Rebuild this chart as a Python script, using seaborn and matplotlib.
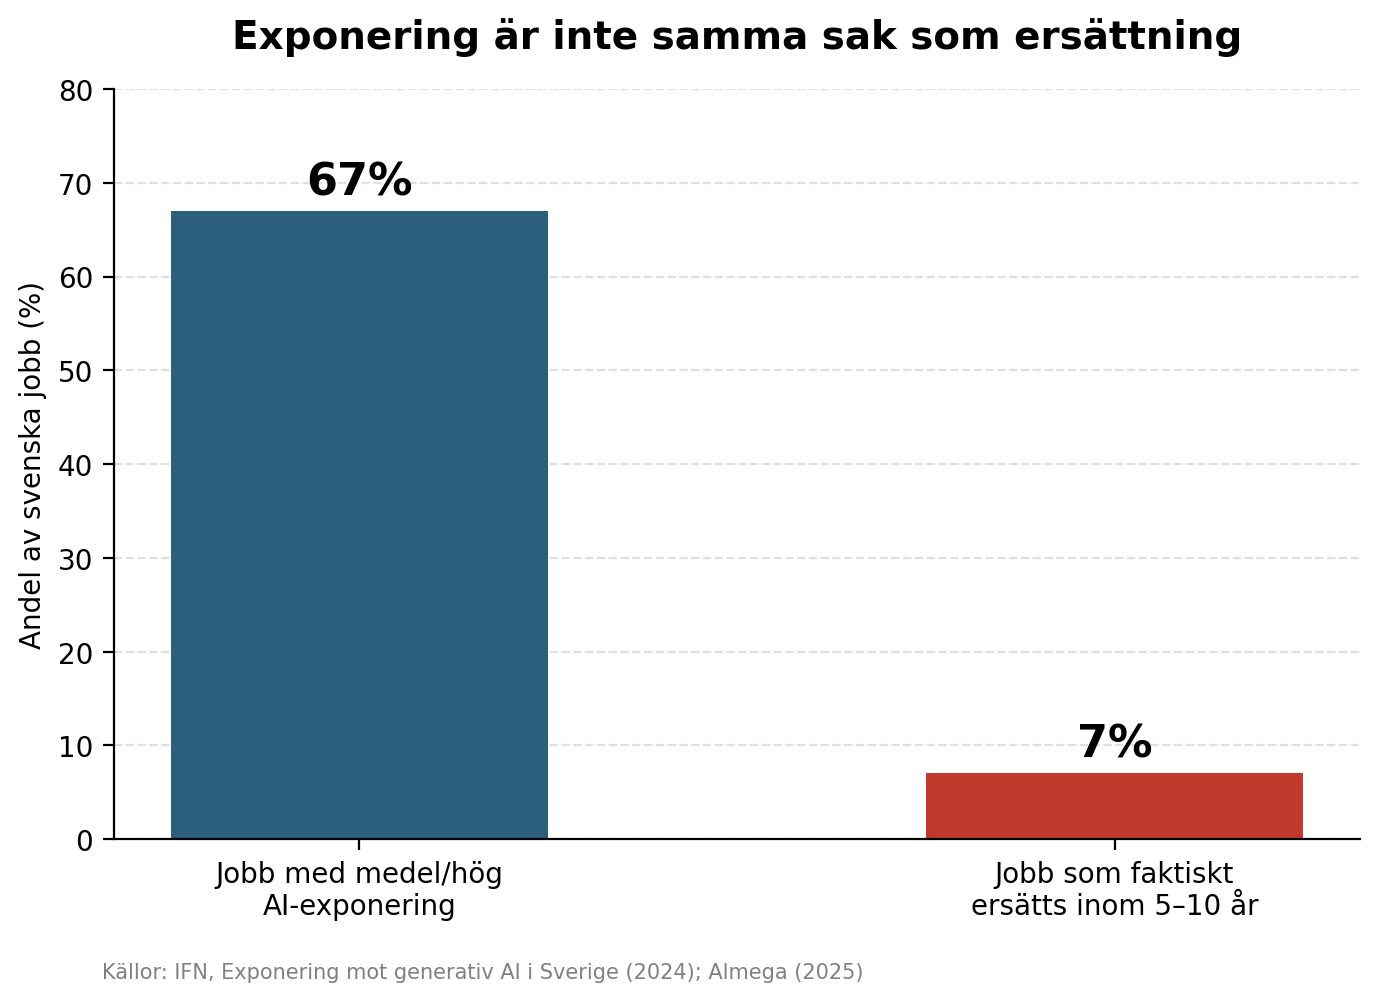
import matplotlib
matplotlib.use("Agg")
import matplotlib.pyplot as plt
import seaborn as sns
import pandas as pd

categories = ["Jobb med medel/hög\nAI-exponering", "Jobb som faktiskt\nersätts inom 5–10 år"]
values = [67, 7]
labels = ["67%", "7%"]
colors = ["#2C5F7C", "#C0392B"]
title = "Exponering är inte samma sak som ersättning"
ylabel = "Andel av svenska jobb (%)"
source = "Källor: IFN, Exponering mot generativ AI i Sverige (2024); Almega (2025)"

sns.set_style("white")
plt.rcParams['font.family'] = ['DejaVu Sans']
plt.rcParams['text.color'] = 'black'
plt.rcParams['axes.labelcolor'] = 'black'
plt.rcParams['xtick.color'] = 'black'
plt.rcParams['ytick.color'] = 'black'

df = pd.DataFrame({"cat": categories, "val": values})
fig = plt.figure(figsize=(6.9, 5.02), dpi=200)
ax = fig.add_axes([114/1380, 1 - 840/1004, (1360-114)/1380, (840-90)/1004])
sns.barplot(data=df, x="cat", y="val", hue="cat", palette=colors, width=0.5,
            legend=False, ax=ax, saturation=1, linewidth=0)
ax.set_xlim(-0.325, 1.325)
ax.set_ylim(0, 80)
ax.set_yticks(range(0, 81, 10))
ax.yaxis.grid(True, linestyle="--", color="#e0e0e0", linewidth=0.8)
ax.set_axisbelow(True)
for s in ["top", "right"]:
    ax.spines[s].set_visible(False)
for s in ["left", "bottom"]:
    ax.spines[s].set_color("black")
    ax.spines[s].set_linewidth(0.8)
ax.tick_params(axis="both", labelsize=10, length=4, width=0.8, color="black",
               labelcolor="black", left=True, bottom=True)
ax.set_xlabel("")
ax.set_ylabel(ylabel, fontsize=10, color="black")
for i, (v, l) in enumerate(zip(values, labels)):
    ax.text(i, v + 0.8, l, ha="center", va="bottom", fontsize=16, fontweight="bold", color="black")
fig.text(0.5 * (114 + 1360) / 1380, 1 - 38/1004, title, ha="center", va="center",
         fontsize=14, fontweight="bold", color="black")
fig.text(102/1380, 1 - 973/1004, source, ha="left", va="center", fontsize=7.5, color="gray")
fig.savefig("out.png", dpi=200)
